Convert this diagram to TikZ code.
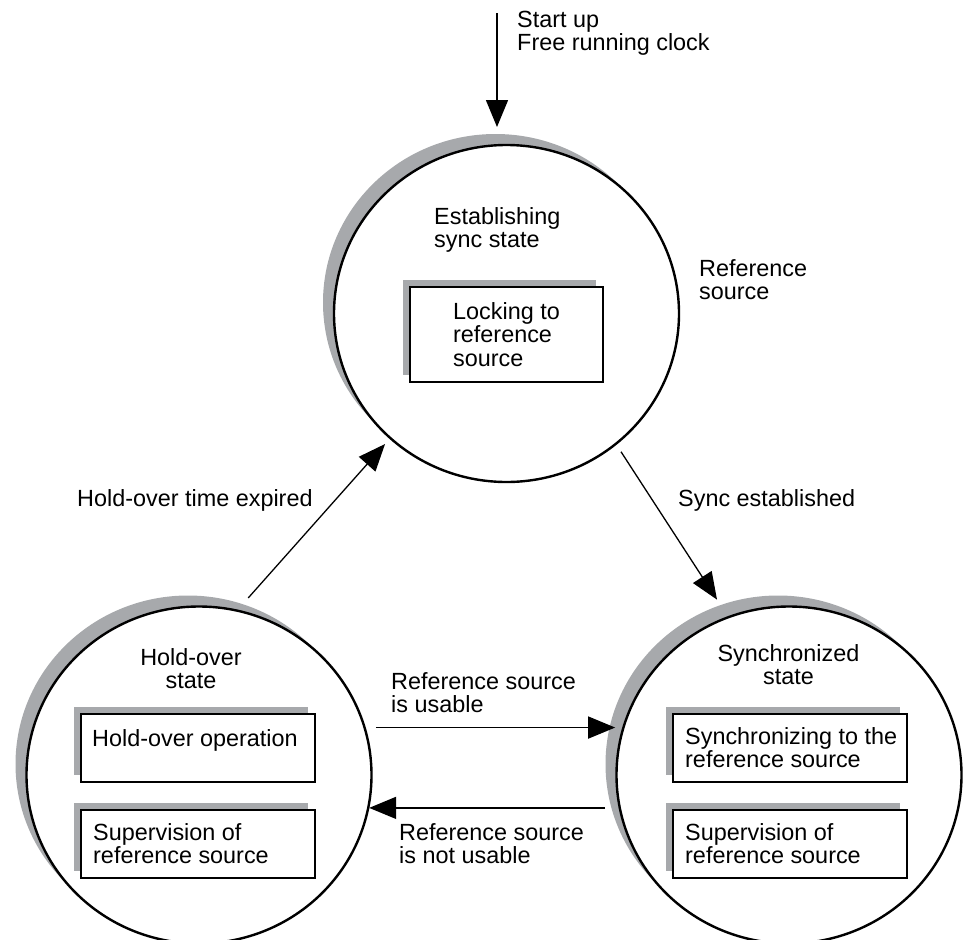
\documentclass[tikz,border=0pt]{standalone}
\usepackage{fontspec}
\setmainfont{Liberation Sans}
\usetikzlibrary{arrows.meta,positioning,shapes.geometric,shadows}
\definecolor{shadegray}{RGB}{167,169,172}
\begin{document}
\begin{tikzpicture}[x=1pt, y=-1pt, font=\fontsize{23.4}{23.4}\selectfont,
  state/.style={ellipse, draw, line width=2.4pt, fill=white, minimum width=345pt, minimum height=337pt, inner sep=0pt, outer sep=0pt,
    drop shadow={shadow xshift=-11pt, shadow yshift=11pt, fill=shadegray, opacity=1}},
  task/.style={draw, line width=2.4pt, fill=white, minimum width=234pt, minimum height=68pt, inner sep=0pt, outer sep=0pt,
    drop shadow={shadow xshift=-7.5pt, shadow yshift=7.5pt, fill=shadegray, opacity=1}},
  txt/.style={inner sep=0pt, align=left},
  flow/.style={line width=1.5pt, -{Triangle[length=27pt, width=22pt]}}]
\useasboundingbox (0,0) rectangle (967,940);

% states
\node[state] (est) at (506.5,313.5) {};
\node[state] (hold) at (199,775) {};
\node[state] (sync) at (789,775) {};

\node[txt, anchor=north west] (estname) at (434,207) {Establishing\\sync state};
\node[txt, align=center, anchor=north] (holdname) at (191,648) {Hold-over\\state};
\node[txt, align=center, anchor=north] (syncname) at (788.5,644) {Synchronized\\state};

% activities inside the states
\node[task, minimum width=193pt, minimum height=95pt, align=left] (lock) at (506.5,334.5) {Locking to\\reference\\source};
\node[task] (holdop) at (198,748) {};
\node[task] (holdsup) at (198,844) {};
\node[task] (syncop) at (790,748) {};
\node[task] (syncsup) at (790,844) {};
\node[txt, anchor=north west] (holdoptext) at ([shift={(11,15.5)}]holdop.north west) {Hold-over operation};
\node[txt, anchor=north west] (holdsuptext) at ([shift={(12,13)}]holdsup.north west) {Supervision of\\reference source};
\node[txt, anchor=north west] (syncoptext) at ([shift={(12,13)}]syncop.north west) {Synchronizing to the\\reference source};
\node[txt, anchor=north west] (syncsuptext) at ([shift={(12,13)}]syncsup.north west) {Supervision of\\reference source};

% transitions
\coordinate (entry) at (497,13);
\node[txt, anchor=north west] (startup) at (517,11) {Start up\\Free running clock};
\node[txt, anchor=north west] (refsrc) at (699,259) {Reference\\source};
\node[txt, anchor=base west] (expired) at (77,506) {Hold-over time expired};
\node[txt, anchor=base west] (established) at (678,506) {Sync established};
\node[txt, anchor=north west] (usable) at (391,672) {Reference source\\is usable};
\node[txt, anchor=north west] (notusable) at (399,823) {Reference source\\is not usable};

\draw[flow, shorten >=18pt] (entry) -- (entry |- est.north);
\draw[flow, line width=1.3pt, shorten <=17pt, shorten >=8pt] (hold.77) -- (est.227);
\draw[flow, line width=1.3pt, shorten <=9.5pt, shorten >=21pt] (est.310) -- (sync.111);
\draw[flow, shorten <=11.3pt, shorten >=8.3pt] (hold.16) -- (sync.164);
\draw[flow, shorten <=14.8pt, shorten >=1pt] (sync.191) -- (hold.-11);
\end{tikzpicture}
\end{document}
